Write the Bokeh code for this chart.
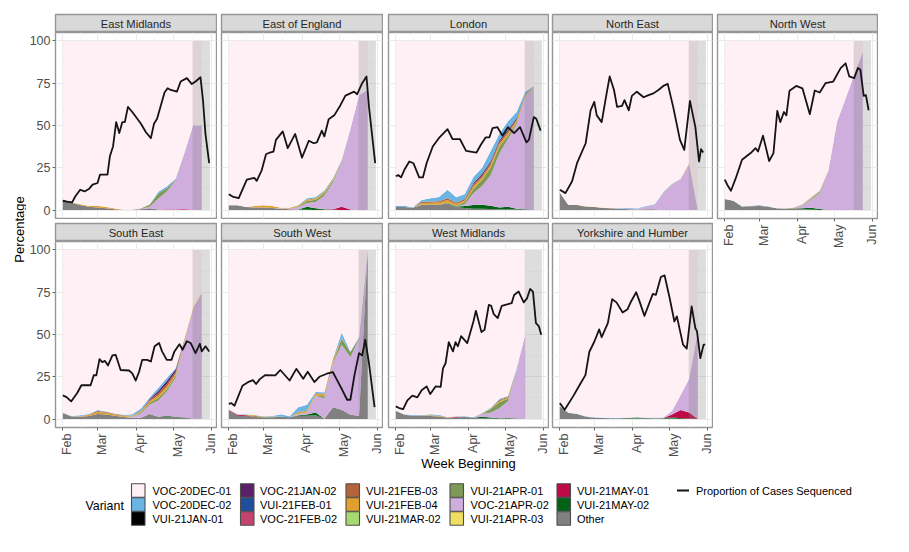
from math import pi
from bokeh.core.properties import value
from bokeh.embed import file_html
from bokeh.resources import INLINE
from bokeh.layouts import column, row
from bokeh.models import FixedTicker, Grid, LinearAxis, Range1d
from bokeh.plotting import figure

# ---------------------------------------------------------------- data
VARIANTS = ["VOC-20DEC-01", "VOC-20DEC-02", "VUI-21JAN-01", "VOC-21JAN-02", "VUI-21FEB-01",
            "VOC-21FEB-02", "VUI-21FEB-03", "VUI-21FEB-04", "VUI-21MAR-02", "VUI-21APR-01",
            "VOC-21APR-02", "VUI-21APR-03", "VUI-21MAY-01", "VUI-21MAY-02", "Other"]
COLOURS = ["#FFF0F5", "#6BB5E3", "#000000", "#5B2068", "#1F4E9C",
           "#C4446F", "#B3643A", "#E0A030", "#A8D870", "#7D9B57",
           "#CFAEDD", "#EEDF60", "#BE0A46", "#006414", "#808080"]
WEEK_DAYS = [0, 7, 14, 21, 28, 35, 42, 49, 56, 63, 70, 77, 84, 91, 98, 105, 112]  # days since 1 Feb 2021
MONTH_DAYS = [0, 28, 59, 89, 120]
MONTH_LABELS = ["Feb", "Mar", "Apr", "May", "Jun"]
MONTH_MID_DAYS = [14, 43.5, 74, 104.5]
Y_TICKS = [0, 25, 50, 75, 100]
Y_MINOR = [12.5, 37.5, 62.5, 87.5]

EAST_MIDLANDS = {
    "VOC-20DEC-01": [94.5, 95.5, 96.6, 97.6, 97.5, 98.2, 99.1, 99.8, 99.8, 98.9, 96.5, 89.2, 85.9, 81.3, 66.3, 49.8, 50],
    "VOC-20DEC-02": [0, 0, 0, 0, 0, 0, 0, 0, 0, 0, .3, 1, 1, .5, 0, 0, 0],
    "VUI-21FEB-04": [0, 0, .4, .4, 1, .8, .4, 0, 0, 0, .2, 0, 0, 0, 0, 0, 0],
    "VUI-21APR-01": [0, 0, 0, 0, 0, 0, 0, 0, 0, .3, 1, 3, 2, .5, .3, 0, 0],
    "VOC-21APR-02": [0, 0, 0, 0, 0, 0, 0, 0, 0, .3, 1, 6.5, 10.8, 17.4, 33, 50, 50],
    "VUI-21MAY-01": [0, 0, 0, 0, 0, 0, 0, 0, 0, 0, 0, 0, .2, .3, .4, .2, 0],
    "Other": [5.5, 4.5, 3, 2, 1.5, 1, .5, .2, .2, .5, 1, .3, .1, 0, 0, 0, 0],
}
EAST_MIDLANDS_DAY = [0, 3.5, 7.5, 10, 14, 17.5, 21, 24, 28, 30, 33, 36, 38, 40.5, 43, 45.5, 48, 50, 52.5, 56, 59, 63, 67, 71, 73.5, 76, 82, 84.5, 87, 92, 95, 100, 104, 107, 111, 113, 115, 118]
EAST_MIDLANDS_PCT = [5.5, 5, 4.5, 8, 12, 11, 12.4, 15, 16, 21, 21, 21, 32, 37.6, 52, 45.5, 52, 52, 61, 58, 55, 51, 46, 42.5, 51, 54, 69.5, 72, 71, 70, 76, 78, 74.5, 76, 78.5, 65, 45, 27.7]

EAST_OF_ENGLAND = {
    "VOC-20DEC-01": [97.2, 97.2, 98.2, 97.6, 97.2, 97.6, 98.6, 98.6, 97, 93, 92.3, 88.4, 81, 70.3, 52, 32, 29],
    "VOC-20DEC-02": [0, 0, 0, 0, 0, 0, 0, 0, .3, .8, .8, .8, 1, .4, 0, 0, 0],
    "VUI-21FEB-04": [0, 0, 0, .9, 1.3, 1.2, .3, .5, .5, .8, .8, 1, .7, .3, 0, 0, 0],
    "VUI-21APR-01": [0, 0, 0, 0, 0, 0, 0, 0, .4, 1.2, 1.3, 1.3, 1, .4, 0, 0, 0],
    "VOC-21APR-02": [0, 0, 0, 0, 0, 0, .3, .4, 1.5, 2.2, 3.7, 8, 15.9, 26.6, 47.7, 67.9, 71],
    "VUI-21MAY-01": [0, 0, 0, 0, 0, 0, 0, 0, 0, 0, 0, 0, .2, 2, .3, .1, 0],
    "VUI-21MAY-02": [0, 0, 0, 0, 0, 0, 0, 0, 0, 1.8, 1, .3, .1, 0, 0, 0, 0],
    "Other": [2.8, 2.8, 1.8, 1.5, 1.5, 1.2, .8, .5, .3, .2, .1, .2, .1, 0, 0, 0, 0],
}
EAST_OF_ENGLAND_DAY = [0, 3, 8, 14.5, 20.5, 22.5, 26.5, 30, 33, 36, 38, 43.5, 47.5, 53.5, 59, 64.5, 68.5, 71, 75, 77, 80.5, 85, 90, 94, 101, 103.5, 107.5, 111, 113, 118]
EAST_OF_ENGLAND_PCT = [9.4, 8, 7, 18, 19, 17.3, 23.5, 33, 34, 34.6, 41.5, 46.5, 36.6, 45, 31, 41, 39.5, 40, 47, 43.5, 53.7, 56, 62, 67.7, 70, 68.5, 75, 79, 61, 27.7]

LONDON = {
    "VOC-20DEC-01": [97.5, 97.5, 98.4, 94.1, 93, 92.3, 88, 92.4, 90.5, 80.5, 75, 65.1, 55, 47.5, 42, 30, 26.6],
    "VOC-20DEC-02": [.7, .7, .3, 1, 2, 2.5, 5, 3.3, 2.8, 3.5, 3.6, 6, 3.7, 5, 3.6, 1.6, .5],
    "VOC-21JAN-02": [0, 0, 0, 0, 0, 0, 0, 0, .3, .8, 1, 1, 1, 1, .8, .3, 0],
    "VUI-21FEB-03": [0, 0, 0, .8, .7, .7, 1, .7, .7, 1.2, 1.2, 1.3, 1.3, 1, .6, .3, 0],
    "VUI-21FEB-04": [0, 0, 0, .8, 1, 1.2, 1.5, 1, 1, 1.5, 1.5, 1.5, 1.5, 1.5, 1.2, 1, .3],
    "VUI-21APR-01": [0, 0, 0, .3, .3, .3, .5, .5, 1.3, 2.5, 3.5, 4.5, 4, 2, 1, .3, 0],
    "VOC-21APR-02": [0, 0, 0, 0, 0, 0, 0, 0, 1, 7, 11, 18, 32, 40, 50, 66, 72.6],
    "VUI-21MAY-02": [0, 0, 0, 0, 0, 0, 0, .3, 1.2, 2.2, 2.4, 2, 1, 1.6, .5, .3, 0],
    "Other": [1.8, 1.8, 1.3, 3, 3, 3, 4, 1.8, 1.2, .8, .8, .6, .5, .4, .3, .2, 0],
}
LONDON_DAY = [0, 2, 4.3, 7, 11, 14.3, 19, 22, 25, 30, 35.5, 42, 46, 52, 57, 65.5, 69, 73, 76, 78.5, 82.5, 86.5, 91, 96, 100.8, 106, 108, 112, 114, 117.5]
LONDON_PCT = [20, 20.7, 19.3, 23.8, 28.7, 27.7, 19.3, 19.3, 27.7, 37.6, 43, 47.8, 42, 42, 35, 34, 38.6, 43, 43, 48.4, 49, 44, 49, 45.5, 49, 40, 41.5, 55, 54, 47]

NORTH_EAST = {
    "VOC-20DEC-01": [89.6, 97, 96.8, 97.8, 98, 98.6, 99, 99, 98.8, 99, 97.6, 96.5, 89.4, 84.5, 81.5, 72.3, 100],
    "VOC-20DEC-02": [0, 0, 0, 0, 0, 0, 0, .2, .5, .3, .5, .5, .3, .3, .3, 0, 0],
    "VUI-21FEB-04": [0, 0, .2, .2, .2, .2, 0, 0, 0, 0, 0, 0, .2, .2, .2, .7, 0],
    "VOC-21APR-02": [0, 0, 0, 0, 0, 0, 0, 0, .2, .4, 1.4, 2.5, 10, 15, 18, 27, 0],
    "Other": [10.4, 3, 3, 2, 1.8, 1.2, 1, .8, .5, .3, .5, .5, .1, 0, 0, 0, 0],
}
NORTH_EAST_DAY = [0, 4.6, 10, 14, 21, 25, 28, 30, 34, 38, 40.5, 44, 46.5, 50.5, 52.5, 56, 58.5, 62.5, 68, 72, 76, 80, 84, 87.6, 92, 97.5, 101, 105.6, 110, 113, 114.6, 116.4]
NORTH_EAST_PCT = [12, 10, 17, 27.7, 39.5, 59, 64, 56, 52, 69, 79, 71, 61, 61.6, 65, 59, 67.5, 70, 66.7, 68, 69, 71, 73.4, 74.6, 61, 41.5, 35.6, 64.6, 49, 28.7, 36, 34]

NORTH_WEST = {
    "VOC-20DEC-01": [93.5, 94.5, 97.8, 97.4, 97, 97.8, 98.9, 99, 98.5, 96.5, 92.5, 88.5, 76.6, 48, 34, 20, 6.3],
    "VOC-20DEC-02": [0, 0, .2, .2, .4, .2, .1, .1, .1, .3, .4, .3, .2, 0, 0, 0, 0],
    "VUI-21FEB-04": [0, 0, 0, .2, .2, 0, 0, .1, .3, .4, .5, .4, .2, 0, 0, 0, 0],
    "VUI-21APR-01": [0, 0, 0, 0, 0, 0, 0, 0, 0, .3, .5, .7, .2, 0, 0, 0, 0],
    "VOC-21APR-02": [0, 0, 0, 0, 0, 0, 0, 0, .2, 1.4, 4.8, 9.5, 22.8, 52, 66, 80, 93.7],
    "VUI-21MAY-02": [0, 0, 0, 0, 0, 0, 0, 0, .3, .7, 1, .5, 0, 0, 0, 0, 0],
    "Other": [6.5, 5.5, 2, 2.2, 2.4, 2, 1, .8, .6, .4, .3, .1, 0, 0, 0, 0, 0],
}
NORTH_WEST_DAY = [0, 2, 5, 9, 14, 21, 25, 27, 31, 36, 39.5, 42.6, 45, 48, 50, 52.5, 58, 63, 69, 73, 77, 81.7, 88, 94, 98, 101, 105, 108, 110, 112.7, 114.5, 116.7]
NORTH_WEST_PCT = [18, 15, 11.4, 19, 29.7, 33.7, 36.6, 34.6, 44, 29, 33.7, 58.7, 52, 58, 56, 70.5, 73.4, 72, 56.7, 70.7, 69.5, 75, 76, 83.9, 86.8, 79, 78, 84, 83, 67.5, 68, 59]

SOUTH_EAST = {
    "VOC-20DEC-01": [96.1, 98.2, 97.8, 97, 94.6, 95.5, 96.7, 97.5, 97.1, 93.7, 87.2, 81.5, 75.6, 70, 52.6, 34.2, 25.3],
    "VOC-20DEC-02": [.2, .3, .5, .3, .6, .4, .3, .4, .8, 1.5, 1, 1.8, 1.7, .8, .3, 0, 0],
    "VOC-21JAN-02": [0, 0, 0, 0, 0, 0, 0, 0, 0, 0, .5, 1.3, 1.8, 1.3, 0, 0, 0],
    "VUI-21FEB-03": [0, 0, 0, .3, .6, .4, .3, .3, 0, .3, .8, 1.5, 1.7, 1.3, .3, 0, 0],
    "VUI-21FEB-04": [.3, 0, .4, .6, 1.2, 1, .7, .6, .4, .6, 1, 1.5, 1.5, 1.2, .8, .8, .7],
    "VUI-21APR-01": [0, 0, 0, 0, 0, 0, 0, 0, .3, .6, 1, 1.5, 1.2, 1.2, .3, 0, 0],
    "VOC-21APR-02": [0, 0, 0, 0, 0, 0, 0, 0, .6, 2.5, 5.5, 9.5, 14.5, 23, 45, 64.7, 74],
    "VUI-21MAY-02": [0, 0, 0, 0, 0, 0, 0, 0, 0, 0, 0, .2, .5, .2, .3, 0, 0],
    "Other": [3.4, 1.5, 1.3, 1.8, 3, 2.7, 2, 1.2, .8, .8, 3, 1.2, 1.5, 1.2, .6, .3, 0],
}
SOUTH_EAST_DAY = [0, 3, 6.7, 11.6, 15, 19.7, 22.4, 25, 27, 29.6, 31.8, 34, 36.4, 40, 42.6, 46.6, 53.4, 56, 58.8, 61.5, 64, 68, 71, 74, 77.6, 80, 83.8, 87.6, 90, 94, 96.5, 100, 103, 107, 110.5, 112, 115, 118]
SOUTH_EAST_PCT = [14, 13, 10.4, 15.4, 20, 20, 20, 26, 25.8, 35.4, 33.7, 34.4, 31.7, 37.6, 38, 29, 28.7, 27, 22.8, 28, 35, 35, 34, 43, 45, 40, 35, 35, 40, 44.3, 41, 46, 45, 39, 44.5, 40, 43, 40]

SOUTH_WEST = {
    "VOC-20DEC-01": [94.3, 97.2, 97.2, 97.6, 98.4, 98.2, 97.2, 98.4, 93, 91.6, 84, 84.1, 64, 49, 60, 51.5, 0],
    "VOC-20DEC-02": [0, .3, .3, 0, .3, .3, 1.5, .6, 3, 3.5, .7, 1, .5, 3, .5, .5, 0],
    "VOC-21FEB-02": [.4, 0, 0, 0, 0, 0, 0, 0, 0, 0, 0, 0, 0, 0, 0, 0, 0],
    "VUI-21FEB-03": [0, 0, 0, 0, 0, 0, 0, 0, 0, 0, .5, .4, .5, 0, 0, 0, 0],
    "VUI-21FEB-04": [0, 0, .3, .5, .3, .5, 0, 0, 1, 1, 1, 1, 1.5, .5, 0, 0, 0],
    "VUI-21APR-01": [0, 0, 0, .7, 0, 0, 0, 0, 0, 0, 0, 1.3, .5, 3.5, 3, .5, 0],
    "VOC-21APR-02": [0, 0, 0, 0, 0, 0, 0, 0, .8, 1.2, 10, 12, 26, 38.5, 34, 45.6, 0],
    "VUI-21MAY-01": [0, .5, .4, .2, 0, 0, 0, 0, 0, 0, 0, 0, 0, 0, 0, 0, 0],
    "VUI-21MAY-02": [0, 0, 0, 0, 0, 0, 0, 0, .3, .7, 1.5, 0, 0, 0, 0, 0, 0],
    "Other": [5.3, 2, 1.8, 1, 1, 1, 1.3, 1, 1.9, 2, 2.3, .2, 7, 5.5, 2.5, 1.9, 100],
}
SOUTH_WEST_DAY = [0, 2, 4.6, 11, 16, 19.4, 22, 25, 29.4, 37.5, 41.5, 49, 54.4, 60, 63.6, 69, 73, 79, 83.8, 87.3, 91.4, 95.4, 98, 101.3, 105, 107.5, 110, 113, 117.5]
SOUTH_WEST_PCT = [9, 9.4, 7.9, 19.7, 22, 23, 20.7, 23.6, 26, 25.8, 29, 22.8, 29.7, 23.8, 28, 21.9, 25, 26.8, 27.8, 23, 17.3, 11.4, 11.4, 26, 39, 37.6, 46.9, 33, 7]

WEST_MIDLANDS = {
    "VOC-20DEC-01": [95, 97.1, 97.6, 97.6, 97.2, 97.5, 98.8, 98.4, 98.3, 99, 96.4, 93.3, 88, 86.3, 70, 50.2],
    "VOC-20DEC-02": [.2, .2, .4, .3, .5, .5, .2, .2, .4, .2, .5, .5, .8, .5, .5, 0],
    "VUI-21FEB-03": [0, 0, 0, 0, 0, 0, 0, 0, 0, 0, 0, 0, .5, .4, 0, 0],
    "VUI-21FEB-04": [0, .2, 0, .3, .5, .5, .2, .2, 0, 0, .3, .3, .8, .8, 0, 0],
    "VUI-21APR-01": [0, 0, 0, 0, 0, 0, 0, 0, 0, 0, 0, 2, 3.5, 1.5, .2, 0],
    "VOC-21APR-02": [0, 0, 0, 0, 0, 0, 0, 0, 0, 0, 1.5, 3, 6, 10, 29, 49.6],
    "VUI-21MAY-01": [0, 0, 0, 0, 0, 0, 0, .4, 0, 0, 0, 0, 0, 0, 0, 0],
    "VUI-21MAY-02": [0, 0, 0, 0, 0, 0, 0, 0, .1, .2, .8, .6, .2, .5, .3, .2],
    "Other": [4.8, 2.5, 2, 1.8, 1.8, 1.5, .8, .8, 1.2, .6, .5, .3, .2, 0, 0, 0],
}
WEST_MIDLANDS_DAY = [0, 2.7, 6, 9.4, 13.5, 17.5, 21, 25, 28, 32.3, 36.4, 38.3, 40.4, 43, 46.4, 48.5, 50.4, 53, 58, 63, 65, 69.5, 72, 75.5, 77.4, 79.5, 82.7, 86, 91, 94, 96, 99.7, 103.8, 106.5, 109, 111.3, 113.7, 116, 118]
WEST_MIDLANDS_PCT = [7.5, 6.5, 5.9, 11, 13.8, 12.8, 17, 19.3, 14.8, 19.3, 19, 30, 33, 45.5, 40, 45.5, 43, 49, 44.9, 57.7, 64, 51.4, 52.8, 67.5, 67, 62, 59.7, 67, 67.9, 68.5, 73.4, 75.4, 69, 71.4, 76.9, 75.4, 56.7, 55, 49.8]

YORKSHIRE = {
    "VOC-20DEC-01": [92.5, 96.3, 96.8, 98.4, 99, 99.2, 99.3, 99.3, 99.2, 99, 99.2, 99.1, 99.1, 95.2, 86, 76, 48],
    "VOC-20DEC-02": [0, 0, .2, .2, .2, .2, .2, .2, .1, .1, .2, .3, 0, 0, 0, 0, 0],
    "VOC-21APR-02": [0, 0, 0, 0, 0, 0, 0, 0, 0, 0, 0, .2, .4, 2.1, 8.7, 20.2, 52],
    "VUI-21MAY-01": [0, 0, 0, 0, 0, 0, 0, 0, 0, 0, 0, 0, 0, 1.7, 4.9, 3.5, 0],
    "VUI-21MAY-02": [0, 0, 0, 0, 0, 0, 0, 0, .2, .4, .2, .1, .3, .7, .4, .3, 0],
    "Other": [7.5, 3.7, 3, 1.4, .8, .6, .5, .5, .5, .5, .4, .3, .2, .3, 0, 0, 0],
}
YORKSHIRE_DAY = [0, 4, 10.8, 16, 20.8, 24, 28, 32, 34, 39, 42.5, 46, 51, 55, 57.4, 62, 64.7, 68.7, 72.8, 75.5, 78, 82, 85, 89, 93, 95, 100, 103, 107, 110, 111.3, 114, 116.7, 118]
YORKSHIRE_PCT = [9.4, 5.5, 13.4, 20, 26, 39.8, 45.7, 53, 48.4, 56.7, 70.9, 69, 63, 65, 68.9, 75, 69.6, 61, 68.9, 74, 73.5, 84, 85, 72, 57.7, 60.7, 44, 41.6, 66.6, 53.7, 52, 36, 44, 44]

REGIONS = [
    ("East Midlands", EAST_MIDLANDS, EAST_MIDLANDS_DAY, EAST_MIDLANDS_PCT),
    ("East of England", EAST_OF_ENGLAND, EAST_OF_ENGLAND_DAY, EAST_OF_ENGLAND_PCT),
    ("London", LONDON, LONDON_DAY, LONDON_PCT),
    ("North East", NORTH_EAST, NORTH_EAST_DAY, NORTH_EAST_PCT),
    ("North West", NORTH_WEST, NORTH_WEST_DAY, NORTH_WEST_PCT),
    ("South East", SOUTH_EAST, SOUTH_EAST_DAY, SOUTH_EAST_PCT),
    ("South West", SOUTH_WEST, SOUTH_WEST_DAY, SOUTH_WEST_PCT),
    ("West Midlands", WEST_MIDLANDS, WEST_MIDLANDS_DAY, WEST_MIDLANDS_PCT),
    ("Yorkshire and Humber", YORKSHIRE, YORKSHIRE_DAY, YORKSHIRE_PCT),
]
SHADE_DAYS = (104.6, 118.6)  # recent-weeks shading

# ---------------------------------------------------------------- layout constants (page px)
FONT = "Liberation Sans"
BORDER = "#969696"
FRAME_WIDTH = [161, 161, 160, 160, 160]
GUTTER = 18
PAD_LEFT = [29, 4, 5, 3, 4]
FRAME_H = 186
AXIS_H = 30
XR = (-5.9, 123.9)
LABEL_SHIFT = 3.6   # rotated month labels sit right of their ticks


def strip(name, i, top):
    p = figure(frame_width=FRAME_WIDTH[i], frame_height=18, x_range=Range1d(0, 1), y_range=Range1d(0, 1),
               x_axis_type=None, y_axis_type=None, toolbar_location=None, output_backend="svg",
               min_border_left=PAD_LEFT[i], min_border_right=1, min_border_top=1, min_border_bottom=0,
               background_fill_color="#D9D9D9", margin=(top, 0, 0, 0))
    p.outline_line_color = BORDER
    p.outline_line_width = 1.4
    p.text(x=[0.5], y=[0.5], text=[name], text_align="center", text_baseline="middle",
           text_font=value(FONT), text_font_size="11.2px", text_color="#262626")
    return p


def panel(data, day, pct, i, left_axis, below_axis):
    p = figure(frame_width=FRAME_WIDTH[i], frame_height=FRAME_H, x_range=Range1d(*XR), y_range=Range1d(-5, 105),
               x_axis_type=None, y_axis_type=None, toolbar_location=None, output_backend="svg",
               min_border_left=PAD_LEFT[i], min_border_right=1, min_border_top=0,
               min_border_bottom=AXIS_H if below_axis else 1, margin=(0, 0, 0, 0),
               extra_x_ranges={"labels": Range1d(XR[0] - LABEL_SHIFT, XR[1] - LABEL_SHIFT)})
    p.outline_line_color = BORDER
    p.outline_line_width = 1.4
    for dim, major, minor in ((0, MONTH_DAYS, MONTH_MID_DAYS), (1, Y_TICKS, Y_MINOR)):
        p.add_layout(Grid(dimension=dim, ticker=FixedTicker(ticks=major, minor_ticks=minor),
                          grid_line_color="#EBEBEB", grid_line_width=1,
                          minor_grid_line_color="#F3F3F3", minor_grid_line_width=0.6))
    # stacked areas: first legend level on top
    n = len(next(iter(data.values())))
    x = WEEK_DAYS[:n]
    base = [0.0] * n
    for name in reversed(VARIANTS):
        if name not in data:
            continue
        top = [b + v for b, v in zip(base, data[name])]
        p.varea(x=x, y1=base, y2=top, fill_color=COLOURS[VARIANTS.index(name)])
        base = top
    p.quad(left=[SHADE_DAYS[0]], right=[SHADE_DAYS[1]], bottom=[0], top=[100],
           fill_color="#808080", fill_alpha=0.27, line_color=None)
    p.line(day, pct, line_color="#141414", line_width=1.8, line_join="round")
    if left_axis:
        ax = LinearAxis(ticker=FixedTicker(ticks=Y_TICKS), axis_line_color=None,
                        major_tick_line_color="#666666", major_tick_in=0, major_tick_out=3,
                        minor_tick_line_color=None, major_label_standoff=2,
                        major_label_text_font=FONT, major_label_text_font_size="12.5px",
                        major_label_text_color="#4D4D4D")
        p.add_layout(ax, "left")
    if below_axis:
        ticks = LinearAxis(ticker=FixedTicker(ticks=MONTH_DAYS), axis_line_color=None,
                           major_tick_line_color="#666666", major_tick_in=0, major_tick_out=3,
                           minor_tick_line_color=None, major_label_standoff=0,
                           major_label_overrides={d: "" for d in MONTH_DAYS})
        labels = LinearAxis(x_range_name="labels", ticker=FixedTicker(ticks=MONTH_DAYS), axis_line_color=None,
                            major_tick_line_color=None, minor_tick_line_color=None,
                            major_tick_in=0, major_tick_out=0, major_label_standoff=3,
                            major_label_overrides=dict(zip(MONTH_DAYS, MONTH_LABELS)),
                            major_label_orientation=pi / 2, major_label_text_font=FONT,
                            major_label_text_font_size="12.5px", major_label_text_color="#4D4D4D")
        p.add_layout(ticks, "below")
        p.add_layout(labels, "below")
    return p


columns = []
for i in range(5):
    name, data, day, pct = REGIONS[i]
    kids = [strip(name, i, 5), panel(data, day, pct, i, i == 0, i == 4)]
    if i < 4:
        name2, data2, day2, pct2 = REGIONS[i + 5]
        kids += [strip(name2, i, 3), panel(data2, day2, pct2, i, i == 0, True)]
    columns.append(column(*kids, spacing=0))

# left gutter with the y axis title
gutter = figure(width=GUTTER, height=450, x_range=Range1d(8, 8 + GUTTER), y_range=Range1d(458, 8),
                x_axis_type=None, y_axis_type=None, toolbar_location=None, output_backend="svg",
                min_border=0, outline_line_color=None, margin=(0, 0, 0, 0))
gutter.text(x=[19], y=[229], text=["Percentage"], angle=pi / 2, text_align="center", text_baseline="middle",
            text_font=value(FONT), text_font_size="13px", text_color="#000000")

# bottom band: x axis title and legend, drawn in page pixels
bottom = figure(width=893, height=83, x_range=Range1d(8, 901), y_range=Range1d(540, 457),
                x_axis_type=None, y_axis_type=None, toolbar_location=None, output_backend="svg",
                min_border=0, outline_line_color=None, margin=(-4, 0, 0, 0))
bottom.text(x=[468], y=[463.5], text=["Week Beginning"], text_align="center", text_baseline="middle",
            text_font=value(FONT), text_font_size="13px", text_color="#000000")
bottom.text(x=[85], y=[506], text=["Variant"], text_align="left", text_baseline="middle",
            text_font=value(FONT), text_font_size="12.4px", text_color="#000000")
KEY_X = [131, 240, 345.5, 449.5, 556.5]
TEXT_X = [152, 259.5, 365.5, 470, 576.5]
ROW_Y = [491, 505, 519]
for k, name in enumerate(VARIANTS):
    c, r = k // 3, k % 3
    bottom.quad(left=[KEY_X[c]], right=[KEY_X[c] + 13.5], top=[ROW_Y[r] - 6.7], bottom=[ROW_Y[r] + 6.7],
                fill_color=COLOURS[k], line_color="#4D4D4D", line_width=1.1)
    bottom.text(x=[TEXT_X[c]], y=[ROW_Y[r]], text=[name], text_align="left", text_baseline="middle",
                text_font=value(FONT), text_font_size="11px", text_color="#000000")
bottom.line([676.5, 688.5], [491, 491], line_color="#141414", line_width=1.8)
bottom.text(x=[695.5], y=[491], text=["Proportion of Cases Sequenced"], text_align="left", text_baseline="middle",
            text_font=value(FONT), text_font_size="11px", text_color="#000000")

page = column(row(gutter, *columns, spacing=0), bottom, spacing=0, margin=(8, 0, 0, 8))
open("out.html", "w").write(file_html(page, INLINE))
